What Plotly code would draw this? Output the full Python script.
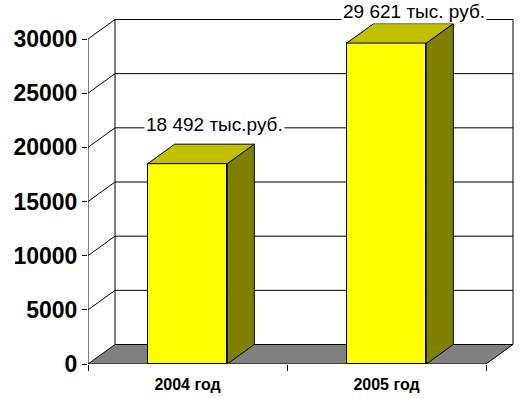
import plotly.graph_objects as go

# ---- data ----
categories = ["2004 год", "2005 год"]
values = [18492, 29621]
value_labels = ["18 492 тыс.руб.", "29 621 тыс. руб."]
y_ticks = [0, 5000, 10000, 15000, 20000, 25000, 30000]

# ---- style / geometry ----
FONT = "Liberation Sans, Arial, sans-serif"
W, H = 523, 398
ML, MR, MT, MB = 88, 8, 5, 34
PX_PER_X = 199.0
PX_PER_Y = 325.0 / 30000.0
plot_w = W - ML - MR
plot_h = H - MT - MB
x_rng = [-0.5, -0.5 + plot_w / PX_PER_X]
y_rng = [0, plot_h / PX_PER_Y]
DX = 27.0 / PX_PER_X          # depth offset in x data units
DY = 19.5 / PX_PER_Y          # depth offset in y data units
BAR_W = 0.40
x_pos = list(range(len(categories)))
x_left, x_right = -0.5, len(categories) - 0.5
y_top = max(y_ticks)

FRONT = "#FFFF00"
TOP = "#C0C000"
SIDE = "#808000"
FLOOR = "#808080"
EDGE = "#000000"

fig = go.Figure()

# front faces of bars
fig.add_trace(go.Bar(
    x=x_pos, y=values, width=BAR_W,
    marker=dict(color=FRONT, line=dict(color=EDGE, width=1)),
    hoverinfo="skip", showlegend=False,
))

# side and top faces of bars
for xi, v in zip(x_pos, values):
    xr = xi + BAR_W / 2
    xl = xi - BAR_W / 2
    fig.add_trace(go.Scatter(
        x=[xr, xr + DX, xr + DX, xr, xr],
        y=[0, DY, v + DY, v, 0],
        fill="toself", fillcolor=SIDE, mode="lines",
        line=dict(color=EDGE, width=1), hoverinfo="skip", showlegend=False,
    ))
    fig.add_trace(go.Scatter(
        x=[xl, xr, xr + DX, xl + DX, xl],
        y=[v, v, v + DY, v + DY, v],
        fill="toself", fillcolor=TOP, mode="lines",
        line=dict(color=EDGE, width=1), hoverinfo="skip", showlegend=False,
    ))

# invisible trace so the category-label axis is rendered
fig.add_trace(go.Scatter(
    x=x_pos, y=[0] * len(x_pos), xaxis="x2", mode="markers",
    marker=dict(opacity=0), hoverinfo="skip", showlegend=False,
))

shapes = []
# floor
shapes.append(dict(
    type="path", xref="x", yref="y", layer="below",
    path=f"M {x_left},0 L {x_right},0 L {x_right + DX},{DY} L {x_left + DX},{DY} Z",
    fillcolor=FLOOR, line=dict(color=EDGE, width=1),
))
# gridlines on back wall and side wall
for t in y_ticks[1:]:
    shapes.append(dict(type="line", xref="x", yref="y", layer="below",
                       x0=x_left + DX, y0=t + DY, x1=x_right + DX, y1=t + DY,
                       line=dict(color=EDGE, width=1)))
    shapes.append(dict(type="line", xref="x", yref="y", layer="below",
                       x0=x_left, y0=t, x1=x_left + DX, y1=t + DY,
                       line=dict(color=EDGE, width=1)))
# wall vertical edges
for xe in (x_left + DX, x_right + DX):
    shapes.append(dict(type="line", xref="x", yref="y", layer="below",
                       x0=xe, y0=DY, x1=xe, y1=y_top + DY,
                       line=dict(color=EDGE, width=1)))
# front value axis line
shapes.append(dict(type="line", xref="x", yref="y", layer="below",
                   x0=x_left, y0=0, x1=x_left, y1=y_top,
                   line=dict(color=EDGE, width=1)))

# value labels
label_shift = [20, 12]
annotations = []
for xi, v, txt, sh in zip(x_pos, values, value_labels, label_shift):
    annotations.append(dict(
        x=xi + DX, y=v + DY, xref="x", yref="y", text=txt,
        showarrow=False, yanchor="middle", xanchor="center", yshift=sh,
        bgcolor="white", borderpad=1,
        font=dict(family=FONT, size=19, color="black"),
    ))

fig.update_layout(
    width=W, height=H,
    margin=dict(l=ML, r=MR, t=MT, b=MB, pad=0, autoexpand=False),
    paper_bgcolor="white", plot_bgcolor="rgba(0,0,0,0)",
    shapes=shapes, annotations=annotations,
    showlegend=False, hovermode=False, bargap=0,
    xaxis=dict(range=x_rng, showgrid=False, zeroline=False, showline=False,
               tickvals=[x_left + i for i in range(len(categories) + 1)],
               showticklabels=False, ticks="outside", ticklen=6,
               tickcolor=EDGE, tickwidth=1, fixedrange=True, automargin=False),
    xaxis2=dict(range=x_rng, overlaying="x", anchor="y", side="bottom",
                showgrid=False, zeroline=False, showline=False,
                tickvals=x_pos, ticktext=categories,
                ticks="outside", ticklen=6, tickcolor="rgba(0,0,0,0)",
                tickfont=dict(family=FONT, size=16, color="black", weight="bold"),
                fixedrange=True, automargin=False),
    yaxis=dict(range=y_rng, showgrid=False, zeroline=False, showline=False,
               tickvals=y_ticks, ticktext=[str(t) for t in y_ticks],
               ticks="outside", ticklen=5, tickcolor=EDGE, tickwidth=1,
               tickfont=dict(family=FONT, size=23, color="black", weight="bold"),
               fixedrange=True, automargin=False),
)

fig.write_html(
    "out.html", config={"displayModeBar": False},
    post_script=("document.body.style.margin='0px';"
                 "document.body.style.overflow='hidden';"
                 "document.documentElement.style.overflow='hidden';"),
)
